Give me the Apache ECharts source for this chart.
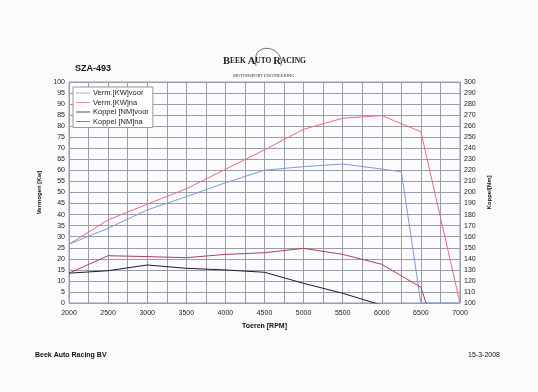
<!DOCTYPE html>
<html><head><meta charset="utf-8">
<script src="https://cdn.jsdelivr.net/npm/echarts@6/dist/echarts.min.js"></script>
<style>html,body{margin:0;padding:0;background:#fbfbfd}#c{width:538px;height:392px}</style>
</head><body><div id="c"></div>
<script>
const rpm = [2000,2500,3000,3500,4000,4500,5000,5500,6000,6250,6500,7000];
const vermVoor = [26.6,33.8,42.1,48.1,54.4,60.1,61.7,62.9,60.6,59.4,0,0];
const rpmNa = [2000,2500,3000,3500,4000,4500,5000,5500,6000,6500,7000];
const vermNa = [26.6,37.6,44.7,51.7,60.5,69.3,78.6,83.6,84.8,77.5,0];
const koppelVoor = [127,129.2,134.4,131.4,129.9,127.8,117.8,108.8,98];
const rpmKoppelVoor = [2000,2500,3000,3500,4000,4500,5000,5500,6000];
const koppelNa = [127,142.8,142,141,144,145.5,149.5,144,135,114.2,6];
const seriesNames = ['Verm.[KW]voor','Verm.[KW]na','Koppel [NM]voor','Koppel [NM]na'];
const colors = ['#7f9bd6','#e86a86','#1c1c2a','#a8405e'];
const zip = (xs, ys) => ys.map((y,i)=>[xs[i],y]);

const chart = echarts.init(document.getElementById('c'));
const font = 'Liberation Sans, Arial, sans-serif';
const serif = 'Liberation Serif, DejaVu Serif, serif';
const gridCol = '#9c9ca6';
chart.setOption({
  backgroundColor: '#fbfbfd',
  animation: false,
  textStyle: {fontFamily: font},
  grid: {left: 69, right: 78, top: 82, bottom: 89, show: true, borderColor: gridCol, borderWidth: 1},
  legend: {
    orient: 'vertical', left: 73, top: 87, data: seriesNames,
    backgroundColor: '#fff', borderColor: '#999', borderWidth: 1, padding: [2,4,2,3],
    itemGap: 1.5, itemWidth: 14, itemHeight: 8, icon: 'path://M0,4 L18,4 L18,5 L0,5 Z',
    textStyle: {fontSize: 7.5, fontFamily: font, color: '#222', padding: [0,0,0,-2]}
  },
  xAxis: {
    type: 'value', min: 2000, max: 7000, interval: 500,
    name: 'Toeren [RPM]', nameLocation: 'middle', nameGap: 20,
    nameTextStyle: {fontSize: 7, fontWeight: 'bold', color: '#111'},
    axisLine: {show: false}, axisTick: {show: false},
    axisLabel: {fontSize: 7, color: '#222', margin: 7, formatter: v => String(v)},
    splitLine: {show: true, lineStyle: {color: gridCol, width: 1}},
    minorTick: {show: false, splitNumber: 2},
    minorSplitLine: {show: true, lineStyle: {color: gridCol, width: 1}}
  },
  yAxis: [{
    type: 'value', min: 0, max: 100, interval: 5,
    name: 'Vermogen [Kw]', nameLocation: 'middle', nameGap: 22, nameRotate: 90,
    nameTextStyle: {fontSize: 6, fontWeight: 'bold', color: '#111'},
    axisLine: {show: false}, axisTick: {show: false},
    axisLabel: {fontSize: 7, color: '#222', margin: 4},
    splitLine: {show: true, lineStyle: {color: gridCol, width: 1}}
  },{
    type: 'value', min: 100, max: 300, interval: 10, position: 'right',
    name: 'Koppel[Nm]', nameLocation: 'middle', nameGap: 24, nameRotate: 90,
    nameTextStyle: {fontSize: 6, fontWeight: 'bold', color: '#111'},
    axisLine: {show: false}, axisTick: {show: false},
    axisLabel: {fontSize: 7, color: '#222', margin: 4},
    splitLine: {show: false}
  }],
  series: [
    {name: seriesNames[0], type: 'line', data: zip(rpm, vermVoor), yAxisIndex: 0, symbol: 'none', lineStyle: {width: 1, color: colors[0]}, itemStyle: {color: colors[0]}},
    {name: seriesNames[1], type: 'line', data: zip(rpmNa, vermNa), yAxisIndex: 0, symbol: 'none', lineStyle: {width: 1, color: colors[1]}, itemStyle: {color: colors[1]}},
    {name: seriesNames[2], type: 'line', data: zip(rpmKoppelVoor, koppelVoor), yAxisIndex: 1, symbol: 'none', clip: true, lineStyle: {width: 1, color: colors[2]}, itemStyle: {color: colors[2]}},
    {name: seriesNames[3], type: 'line', data: zip(rpmNa, koppelNa), yAxisIndex: 1, symbol: 'none', clip: true, lineStyle: {width: 1, color: colors[3]}, itemStyle: {color: colors[3]}}
  ],
  graphic: [
    {type: 'text', left: 75, top: 64, style: {text: 'SZA-493', font: 'bold 9px ' + font, fill: '#111'}},
    {type: 'text', left: 223, top: 56, style: {
      rich: {
        b: {fontFamily: serif, fontSize: 10.5, fontWeight: 'bold', fill: '#222'},
        s: {fontFamily: serif, fontSize: 7.5, fontWeight: 'bold', fill: '#222'}
      },
      text: '{b|B}{s|EEK }{b|A}{s|UTO }{b|R}{s|ACING}'
    }},
    {type: 'bezierCurve', shape: {x1: 256, y1: 66, x2: 281, y2: 66, cpx1: 250, cpy1: 40, cpx2: 285, cpy2: 45},
      style: {stroke: '#333', lineWidth: 0.7, fill: null}},
    {type: 'text', left: 233, top: 73, style: {text: 'MOTORSPORT ENGINEERING', font: '4.5px ' + serif, fill: '#333'}},
    {type: 'text', left: 35, top: 352, style: {text: 'Beek Auto Racing BV', font: 'bold 7px ' + font, fill: '#111'}},
    {type: 'text', right: 38, top: 352, style: {text: '15-3-2008', font: '7px ' + font, fill: '#111'}}
  ]
});
</script></body></html>
